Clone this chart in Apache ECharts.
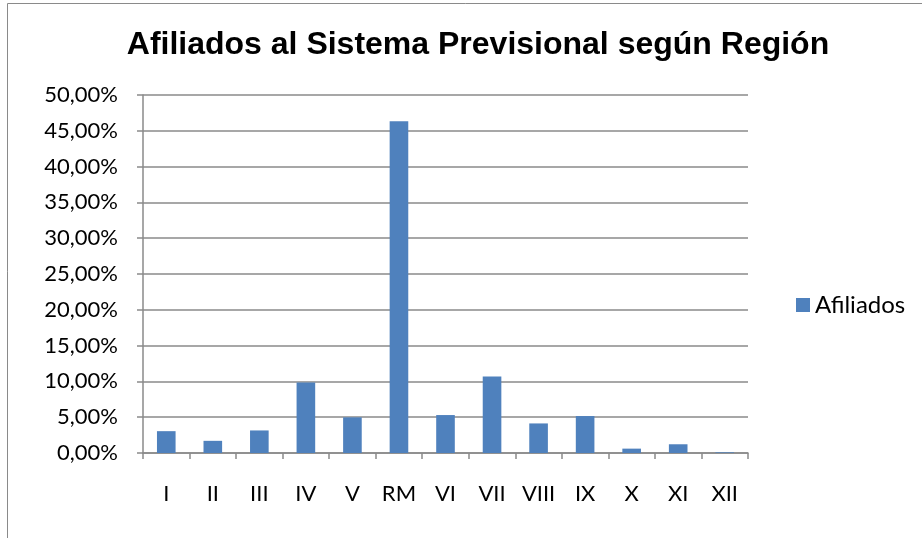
<!DOCTYPE html>
<html>
<head>
<meta charset="utf-8">
<script src="https://cdn.jsdelivr.net/npm/echarts@6/dist/echarts.min.js"></script>
<style>html,body{margin:0;padding:0;background:#fff}#c{width:922px;height:538px}</style>
</head>
<body>
<div id="c"></div>
<script>
const categories = ['I','II','III','IV','V','RM','VI','VII','VIII','IX','X','XI','XII'];
const afiliados = [3.05, 1.7, 3.15, 9.86, 4.98, 46.35, 5.3, 10.7, 4.13, 5.16, 0.61, 1.22, 0.09];
const seriesName = 'Afiliados';
const titleText = 'Afiliados al Sistema Previsional según Región';

const chart = echarts.init(document.getElementById('c'), null, {renderer: 'canvas'});
const labelFont = "Lato, 'Open Sans', sans-serif";
chart.setOption({
  animation: false,
  backgroundColor: '#fff',
  graphic: [{
    type: 'rect', silent: true, z: -1,
    shape: {x: 7.5, y: 3.5, width: 1000, height: 1000},
    style: {fill: 'none', stroke: '#8a8a8a', lineWidth: 1}
  }],
  title: {
    text: titleText, left: 473, top: 24, textAlign: 'center',
    textStyle: {fontFamily: "'Liberation Sans', Arial, sans-serif", fontWeight: 'bold', fontSize: 32, color: '#000'}
  },
  legend: {
    data: [seriesName], left: 791, top: 288, icon: 'rect', itemWidth: 14, itemHeight: 14, itemGap: 5,
    textStyle: {fontFamily: labelFont, fontSize: 24, color: '#000', padding: [0,0,0,0]}
  },
  grid: {left: 143, right: 174, top: 95, bottom: 85, containLabel: false},
  xAxis: {
    type: 'category', data: categories,
    axisLine: {lineStyle: {color: '#8a8a8a', width: 1.5}},
    axisTick: {show: true, length: 6, inside: false, lineStyle: {color: '#8a8a8a', width: 1.5}},
    axisLabel: {fontFamily: labelFont, fontSize: 22, color: '#000', margin: 30}
  },
  yAxis: {
    type: 'value', min: 0, max: 50, interval: 5,
    axisLine: {show: true, lineStyle: {color: '#8a8a8a', width: 1.5}},
    axisTick: {show: true, length: 6, lineStyle: {color: '#8a8a8a', width: 1.5}},
    splitLine: {lineStyle: {color: '#8a8a8a', width: 1.5}},
    axisLabel: {fontFamily: labelFont, fontSize: 22, color: '#000', margin: 25,
      formatter: v => v.toFixed(2).replace('.', ',') + '%'}
  },
  series: [{
    name: seriesName, type: 'bar', data: afiliados, barWidth: '40%',
    itemStyle: {color: '#4f81bd'}
  }]
});
</script>
</body>
</html>
